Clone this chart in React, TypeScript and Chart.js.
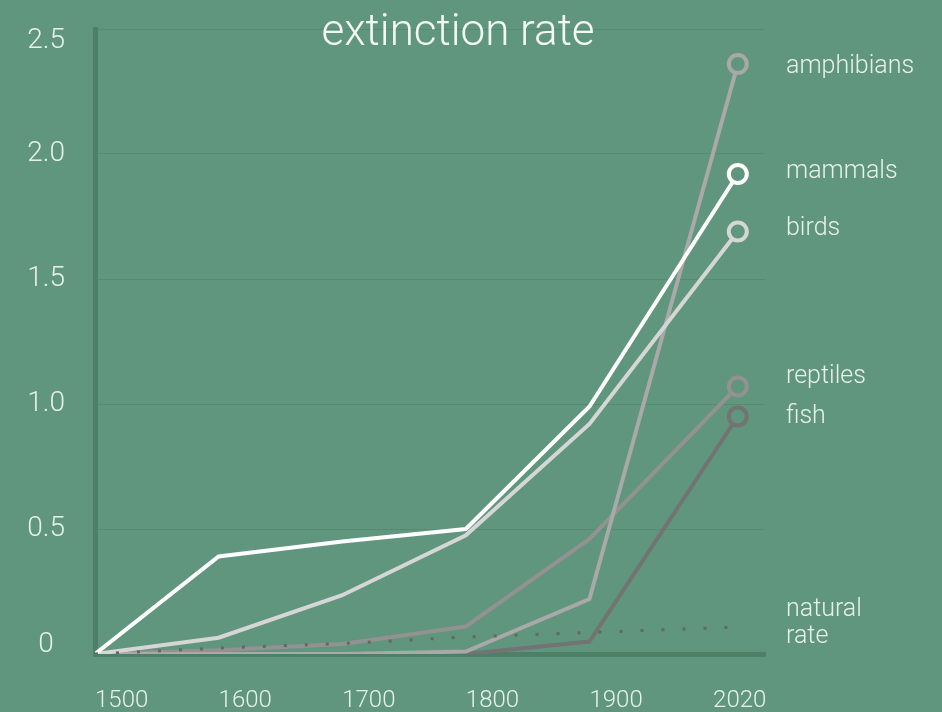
import { useEffect, useRef } from 'react';
import { Chart, registerables } from 'chart.js';

Chart.register(...registerables);

// ---- data ----
const years = [1500, 1600, 1700, 1800, 1900, 2020];
const mammals = [0, 0.39, 0.45, 0.5, 0.99, 1.92];
const birds = [0, 0.065, 0.235, 0.475, 0.92, 1.69];
const amphibians = [0, 0, 0, 0.01, 0.22, 2.36];
const reptiles = [0, 0.015, 0.04, 0.11, 0.46, 1.07];
const fish = [0, 0, 0, 0, 0.05, 0.95];
const naturalRate = [0, 0.024, 0.042, 0.068, 0.086, 0.108];

const seriesNames = ['mammals', 'birds', 'amphibians', 'reptiles', 'fish', 'natural rate'];
// value at which each series' name is written on the right
const nameAnchors = [1.93, 1.7, 2.35, 1.11, 0.95, 0.124];

const xTickValues = [1500, 1600, 1700, 1800, 1900, 2000];
const xTickLabels = ['1500', '1600', '1700', '1800', '1900', '2020'];
const yTickLabels = ['0', '0.5', '1.0', '1.5', '2.0', '2.5'];

const TITLE = 'extinction rate';

// ---- styles ----
const BG = '#5f967d';
const AXIS = '#4e8068';
const GRID = '#568b72';
const TXT = '#e8f0eb';
const FAMILY = 'Roboto, "Open Sans", "Liberation Sans", sans-serif';
const colors = ['#ffffff', '#d6d6d6', '#a9a9a9', '#929292', '#737373', '#666666'];

const endLabelsPlugin = {
  id: 'endLabels',
  afterDatasetsDraw(chart: any) {
    const { ctx, chartArea, scales } = chart;
    ctx.save();
    ctx.fillStyle = TXT;
    ctx.font = `300 25px ${FAMILY}`;
    ctx.textAlign = 'left';
    ctx.textBaseline = 'middle';
    seriesNames.forEach((name, i) => {
      const lines = name === 'natural rate' ? ['natural', 'rate'] : [name];
      const cy = scales.y.getPixelForValue(nameAnchors[i]);
      const lh = 27;
      lines.forEach((line, j) => {
        ctx.fillText(line, chartArea.right + 21, cy + (j - (lines.length - 1) / 2) * lh);
      });
    });
    ctx.restore();
  },
};

const titlePlugin = {
  id: 'titleText',
  afterDraw(chart: any) {
    const { ctx } = chart;
    ctx.save();
    ctx.fillStyle = '#f4f8f5';
    ctx.font = `300 44px ${FAMILY}`;
    ctx.textAlign = 'center';
    ctx.textBaseline = 'alphabetic';
    ctx.fillText(TITLE, 458, 45);
    ctx.restore();
  },
};

export default function App() {
  const ref = useRef<HTMLCanvasElement>(null);

  useEffect(() => {
    const seriesValues = [mammals, birds, amphibians, reptiles, fish];
    const datasets: any[] = seriesValues.map((vals, i) => ({
      label: seriesNames[i],
      data: years.map((x, k) => ({ x, y: vals[k] })),
      borderColor: colors[i],
      borderWidth: 4,
      pointRadius: years.map((_, k) => (k === years.length - 1 ? 9 : 0)),
      pointBorderWidth: 4,
      pointBorderColor: colors[i],
      pointBackgroundColor: BG,
      tension: 0,
      fill: false,
      order: 0,
    }));
    datasets.push({
      label: seriesNames[5],
      data: years.map((x, k) => ({ x, y: naturalRate[k] })),
      borderColor: colors[5],
      borderWidth: 3,
      borderDash: [3, 18],
      pointRadius: 0,
      tension: 0,
      fill: false,
      order: -1,
    });

    const chart = new Chart(ref.current!, {
      type: 'line',
      data: { datasets },
      options: {
        responsive: false,
        animation: false,
        devicePixelRatio: 1,
        layout: { padding: { left: 0, right: 177, top: 29, bottom: 0 } },
        plugins: { legend: { display: false }, tooltip: { enabled: false } },
        scales: {
          x: {
            type: 'linear',
            min: 1500,
            max: 2042,
            grid: { display: false, drawTicks: false },
            border: { display: true, color: AXIS, width: 5 },
            ticks: {
              align: 'start',
              padding: 33,
              maxRotation: 0,
              autoSkip: false,
              color: TXT,
              font: { family: FAMILY, size: 24, weight: '300' },
              callback: (_v: any, i: number) => xTickLabels[i],
            },
            afterBuildTicks: (s: any) => {
              s.ticks = xTickValues.map((v) => ({ value: v }));
            },
            afterFit: (s: any) => {
              s.height = 58;
              s.paddingLeft = 0;
              s.paddingRight = 0;
              s.paddingTop = 0;
              s.paddingBottom = 0;
            },
          },
          y: {
            min: 0,
            max: 2.5,
            grid: { color: GRID, lineWidth: 1, drawTicks: false },
            border: { display: true, color: AXIS, width: 5 },
            ticks: {
              stepSize: 0.5,
              padding: 30,
              crossAlign: 'center',
              color: TXT,
              font: (ctx: any) => ({
                family: FAMILY,
                size: 28,
                weight: '300',
                lineHeight: ctx.index === 0 ? '18px' : ctx.index === yTickLabels.length - 1 ? '24px' : 1.2,
              }),
              callback: (_v: any, i: number) => {
                const label = yTickLabels[i];
                if (i === 0) return [label, ''];
                if (i === yTickLabels.length - 1) return ['', label];
                return label;
              },
            },
            afterFit: (s: any) => {
              s.width = 95;
              s.paddingLeft = 0;
              s.paddingRight = 0;
              s.paddingTop = 0;
              s.paddingBottom = 0;
            },
          },
        },
      } as any,
      plugins: [endLabelsPlugin, titlePlugin],
    });
    return () => chart.destroy();
  }, []);

  return (
    <div style={{ position: 'fixed', left: 0, top: 0, width: 942, height: 712, background: BG }}>
      <canvas ref={ref} width={942} height={712} style={{ display: 'block', width: 942, height: 712 }} />
    </div>
  );
}
